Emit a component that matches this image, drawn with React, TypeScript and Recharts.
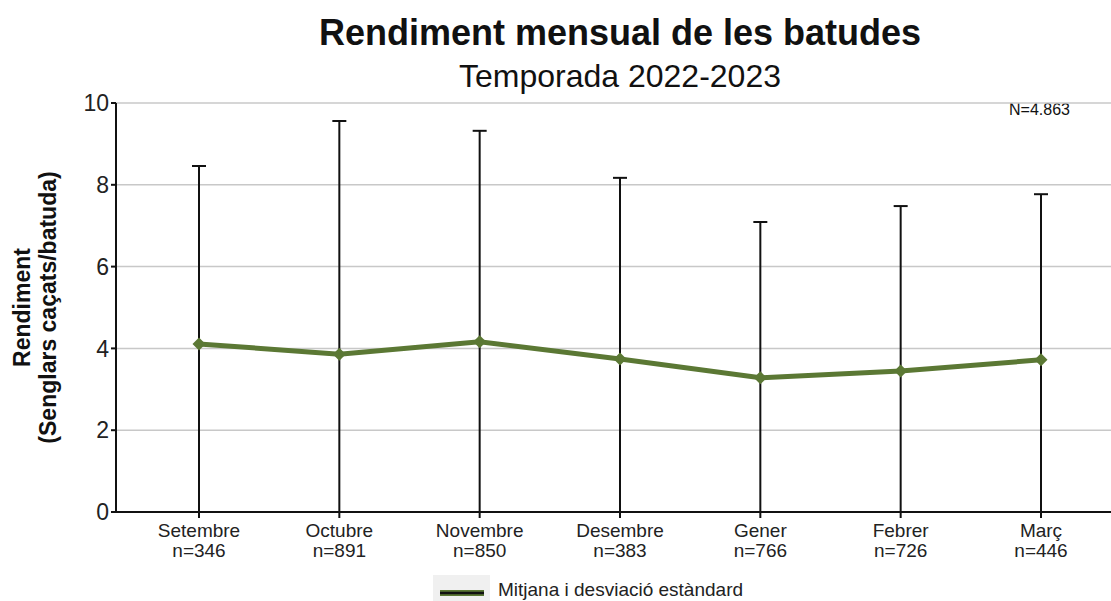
import { LineChart, Line, XAxis, YAxis, CartesianGrid, ErrorBar, Label } from 'recharts';

const months = ['Setembre', 'Octubre', 'Novembre', 'Desembre', 'Gener', 'Febrer', 'Març'];
const counts = [346, 891, 850, 383, 766, 726, 446];
const means = [4.11, 3.86, 4.16, 3.74, 3.28, 3.45, 3.72];
const stdDevs = [4.35, 5.7, 5.16, 4.43, 3.81, 4.03, 4.05];
const yTicks = [0, 2, 4, 6, 8, 10];

// lower whisker is cut at the x axis (mean - sd < 0 everywhere)
const data = months.map((m, i) => ({
    month: m,
    n: counts[i],
    mean: means[i],
    err: [Math.min(means[i], stdDevs[i]), stdDevs[i]],
}));

const FONT = "'Liberation Sans', Arial, sans-serif";
const GREEN = '#5b7834';

function MonthTick(props: any) {
    const { x, y, payload, index } = props;
    return (
        <g transform={`translate(${x},${y})`}>
            <text textAnchor="middle" fontSize={19} fill="#222" fontFamily={FONT}>
                <tspan x={0} dy={17}>{payload.value}</tspan>
                <tspan x={0} dy={20}>n={counts[index]}</tspan>
            </text>
        </g>
    );
}

function Diamond(props: any) {
    const { cx, cy } = props;
    if (cx == null || cy == null) return null;
    const r = 6.5;
    return <polygon points={`${cx},${cy - r} ${cx + r},${cy} ${cx},${cy + r} ${cx - r},${cy}`} fill={GREEN} />;
}

function YTitle(props: any) {
    const vb = props.viewBox || { y: 103, height: 409 };
    const cy = vb.y + vb.height / 2;
    return (
        <g fontFamily={FONT} fontWeight="bold" fontSize={23} fill="#111" textAnchor="middle">
            <text transform={`translate(30,${cy}) rotate(-90)`}>Rendiment</text>
            <text transform={`translate(56,${cy}) rotate(-90)`}>(Senglars caçats/batuda)</text>
        </g>
    );
}

export default function App() {
    return (
        <div style={{ position: 'absolute', left: 0, top: 0, width: 1111, height: 601, background: '#fff', fontFamily: FONT, overflow: 'hidden' }}>
            <div style={{ position: 'absolute', left: 0, width: 1240, top: 12, textAlign: 'center', fontSize: 36, fontWeight: 'bold', color: '#111', lineHeight: '42px' }}>
                Rendiment mensual de les batudes
            </div>
            <div style={{ position: 'absolute', left: 0, width: 1240, top: 57, textAlign: 'center', fontSize: 32, color: '#111', lineHeight: '38px' }}>
                Temporada 2022-2023
            </div>
            <div style={{ position: 'absolute', left: 1009, top: 101, fontSize: 16, color: '#111' }}>N=4.863</div>

            <LineChart width={1111} height={601} data={data} margin={{ top: 103, right: 0, bottom: 29, left: 0 }}>
                <CartesianGrid vertical={false} stroke="#c8c8c8" strokeWidth={1.5} />
                <XAxis
                    dataKey="month"
                    scale="point"
                    padding={{ left: 83, right: 70 }}
                    height={60}
                    stroke="#111"
                    strokeWidth={2}
                    tickSize={6}
                    tickMargin={2}
                    tick={<MonthTick />}
                    interval={0}
                />
                <YAxis
                    width={116}
                    domain={[0, 10]}
                    ticks={yTicks}
                    allowDataOverflow
                    stroke="#111"
                    strokeWidth={2}
                    tickSize={5}
                    tickMargin={2}
                    tick={{ fontSize: 23, fill: '#222', fontFamily: FONT }}
                >
                    <Label content={<YTitle />} />
                </YAxis>
                <Line dataKey="mean" stroke="none" dot={false} activeDot={false} isAnimationActive={false} legendType="none">
                    <ErrorBar dataKey="err" direction="y" width={7} stroke="#111" strokeWidth={2} />
                </Line>
                <Line dataKey="mean" stroke={GREEN} strokeWidth={5} dot={<Diamond />} activeDot={false} isAnimationActive={false} />
            </LineChart>

            <div style={{ position: 'absolute', left: 433, top: 575, width: 57, height: 26, background: '#f0f0f0' }} />
            <svg style={{ position: 'absolute', left: 433, top: 575 }} width={57} height={26}>
                <line x1={7} x2={51} y1={18} y2={18} stroke={GREEN} strokeWidth={6} />
                <line x1={7} x2={51} y1={18} y2={18} stroke="#111" strokeWidth={2.5} />
            </svg>
            <div style={{ position: 'absolute', left: 498, top: 579, fontSize: 19, color: '#222', lineHeight: '21px', whiteSpace: 'nowrap' }}>
                Mitjana i desviació estàndard
            </div>
        </div>
    );
}
